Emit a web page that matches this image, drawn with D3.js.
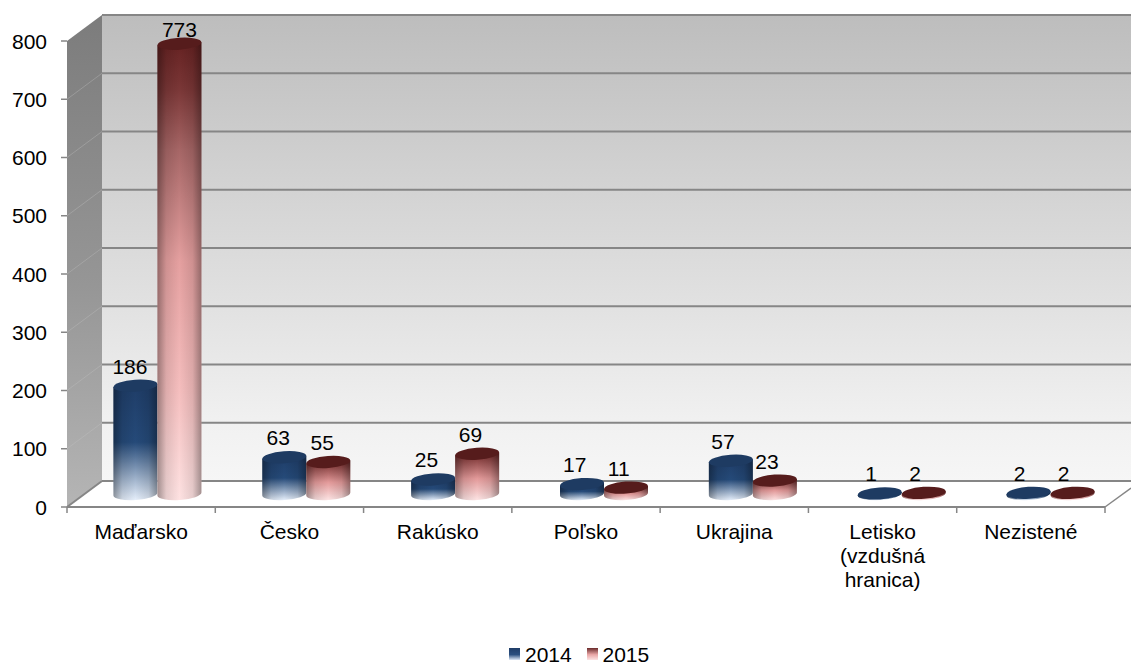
<!DOCTYPE html>
<html><head><meta charset="utf-8">
<script src="https://cdnjs.cloudflare.com/ajax/libs/d3/7.8.5/d3.min.js"></script>
<style>html,body{margin:0;padding:0;background:#fff}svg{display:block}
text{font-family:"Liberation Sans",Arial,sans-serif;fill:#000}</style></head>
<body><svg id="c" width="1131" height="664"></svg>
<script>
const categories = [["Maďarsko"],["Česko"],["Rakúsko"],["Poľsko"],["Ukrajina"],["Letisko","(vzdušná","hranica)"],["Nezistené"]];
const categoryKeys = categories.map(c => c.join(" "));
const seriesNames = ["2014","2015"];
const values2014 = [186,63,25,17,57,1,2];
const values2015 = [773,55,69,11,23,2,2];
const yTicks = [0,100,200,300,400,500,600,700,800];

const svg = d3.select("#c");
const defs = svg.append("defs");
const depth = {x:35, y:-26};
const fontSize = 21;

const y = d3.scaleLinear().domain([0,800]).range([507,41]);
const xAxisScale = d3.scaleBand().domain(categoryKeys).range([67,1105]);
const xBars = d3.scaleBand().domain(categoryKeys).range([83,1125]);
const xSeries = d3.scaleBand().domain(seriesNames).range([0,xBars.bandwidth()]);
const rightBack = 1131;

function linGrad(id, stops, x1=0,y1=0,x2=0,y2=1){
  const g = defs.append("linearGradient").attr("id",id).attr("x1",x1).attr("y1",y1).attr("x2",x2).attr("y2",y2);
  stops.forEach(s=>g.append("stop").attr("offset",s[0]).attr("stop-color",s[1]).attr("stop-opacity",s[2]===undefined?1:s[2]));
}
linGrad("wall",[[0,"#bdbdbd"],[.3,"#cfcfcf"],[.6,"#e0e0e0"],[.88,"#f1f1f1"],[1,"#f6f6f6"]]);
linGrad("side",[[0,"#7c7c7c"],[.55,"#969696"],[1,"#b5b5b5"]]);
linGrad("shade",[[0,"#000",.36],[.2,"#000",.10],[.5,"#000",0],[.8,"#000",.10],[1,"#000",.36]],0,0,1,0);
linGrad("g2014",[[0,"#1f3d68"],[.5,"#254a79"],[1,"#e6effb"]]);
linGrad("g2015",[[0,"#662222"],[.1,"#7a3636"],[.235,"#a66666"],[.48,"#e5a0a0"],[.76,"#f5bebe"],[1,"#fee2e2"]]);
linGrad("g2015s",[[0,"#6b2424"],[.55,"#e39a9a"],[1,"#fde4e4"]]);
linGrad("leg2014",[[0,"#1f3d68"],[.55,"#2b5080"],[1,"#dfe9f7"]]);
linGrad("leg2015",[[0,"#6a2a2a"],[.55,"#e9a6a6"],[1,"#fde4e4"]]);

const x0 = xAxisScale.range()[0], x1 = xAxisScale.range()[1];
const yB = y(0), yT = y(800);
const line = d3.line();
const back = v => y(v)+depth.y;

svg.append("path").attr("d",line([[x0+depth.x,yT+depth.y],[rightBack,yT+depth.y],[rightBack,yB+depth.y],[x0+depth.x,yB+depth.y]])+"Z").attr("fill","url(#wall)");
svg.append("path").attr("d",line([[x0,yT],[x0+depth.x,yT+depth.y],[x0+depth.x,yB+depth.y],[x0,yB]])+"Z").attr("fill","url(#side)");

yTicks.forEach(v=>{
  if(v>0&&v<800) svg.append("path").attr("d",line([[x0,y(v)],[x0+depth.x,back(v)]])).attr("stroke","#c4c4c4").attr("stroke-opacity",.35).attr("stroke-width",1).attr("fill","none");
  svg.append("path").attr("d",line([[x0+depth.x,back(v)],[rightBack,back(v)]])).attr("stroke","#868686").attr("stroke-width",2).attr("fill","none");
});

const axisC = "#868686";
svg.append("path").attr("d",line([[x0,yB],[x0+depth.x,yB+depth.y]])).attr("stroke",axisC).attr("stroke-width",2).attr("fill","none");
svg.append("path").attr("d",line([[x1,yB],[rightBack,yB-19]])).attr("stroke",axisC).attr("stroke-width",1.5).attr("fill","none");
svg.append("path").attr("d",line([[x0,yB],[x1,yB]])).attr("stroke",axisC).attr("stroke-width",2).attr("fill","none");

yTicks.forEach(v=>{
  svg.append("path").attr("d",line([[x0-6,y(v)],[x0,y(v)]])).attr("stroke",axisC).attr("stroke-width",1.5);
  svg.append("text").attr("x",x0-20).attr("y",y(v)+7.5).attr("text-anchor","end").attr("font-size",fontSize).text(v);
});
const xTickPositions = categoryKeys.map(k=>xAxisScale(k)).concat([x1]);
xTickPositions.forEach(px=>svg.append("path").attr("d",line([[px,yB],[px,yB+6]])).attr("stroke",axisC).attr("stroke-width",1.5));
categories.forEach((lines,i)=>{
  const cx = xAxisScale(categoryKeys[i])+xAxisScale.bandwidth()/2;
  lines.forEach((t,j)=>svg.append("text").attr("x",cx).attr("y",539+j*24).attr("text-anchor","middle").attr("font-size",fontSize).text(t));
});

const baseShift = 13, rx = 22, ry = 6, tilt = -4;
const dyT = rx*Math.sin(tilt*Math.PI/180);
function cyl(g, cx, v, fill, topFill){
  const by = y(0)-baseShift, ty = y(v)-baseShift;
  const d = `M${cx-rx},${ty-dyT} L${cx-rx},${by-dyT} A${rx},${ry} ${tilt} 0 0 ${cx+rx},${by+dyT} L${cx+rx},${ty+dyT} Z`;
  g.append("path").attr("d",d).attr("fill",fill);
  g.append("path").attr("d",d).attr("fill","url(#shade)");
  g.append("ellipse").attr("cx",cx).attr("cy",ty).attr("rx",rx).attr("ry",ry)
    .attr("transform",`rotate(${tilt} ${cx} ${ty})`).attr("fill",topFill);
}
const barLayer = svg.append("g");
const minLabelY = 37;
function valueLabel(cx, v, i){
  const raw = y(v)-baseShift-12;
  const clamped = raw < minLabelY;
  svg.append("text").attr("x",clamped?cx:cx-5.5-0.6*i).attr("y",Math.max(raw,minLabelY))
    .attr("text-anchor","middle").attr("font-size",fontSize).text(v);
}
categoryKeys.forEach((k,i)=>{
  const w = xSeries.bandwidth();
  const cA = xBars(k)+xSeries("2014")+w-rx, cB = xBars(k)+xSeries("2015")+rx;
  cyl(barLayer,cA,values2014[i],"url(#g2014)","#1e3b62");
  cyl(barLayer,cB,values2015[i],values2015[i]>100?"url(#g2015)":"url(#g2015s)","#561c1c");
  valueLabel(cA,values2014[i],i);
  valueLabel(cB,values2015[i],i);
});

const legendItems = [{n:"2014",sx:509,tx:525,f:"url(#leg2014)"},{n:"2015",sx:587,tx:602.5,f:"url(#leg2015)"}];
legendItems.forEach(d=>{
  svg.append("rect").attr("x",d.sx).attr("y",648).attr("width",11).attr("height",12).attr("fill",d.f);
  svg.append("text").attr("x",d.tx).attr("y",661.5).attr("font-size",fontSize).text(d.n);
});
</script></body></html>
